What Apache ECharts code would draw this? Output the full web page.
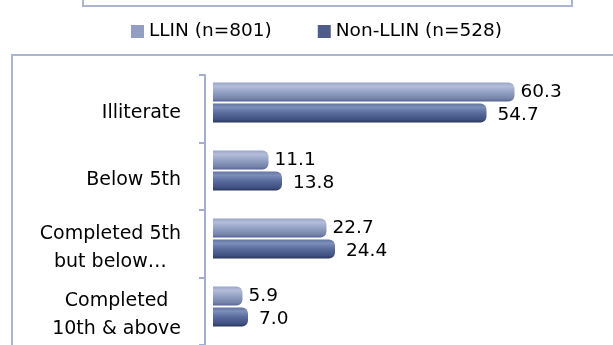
<!DOCTYPE html>
<html>
<head>
<meta charset="utf-8">
<script src="https://cdn.jsdelivr.net/npm/echarts@6/dist/echarts.min.js"></script>
<style>
  html, body { margin: 0; padding: 0; background: #ffffff; }
  #chart { width: 613px; height: 345px; }
</style>
</head>
<body>
<div id="chart"></div>
<script>
// ---- data ----
var categories = ['Illiterate', 'Below 5th', 'Completed 5th\nbut below\u2026', 'Completed\n10th & above'];
var seriesNames = ['LLIN (n=801)', 'Non-LLIN (n=528)'];
var llinValues = [60.3, 11.1, 22.7, 5.9];
var nonLlinValues = [54.7, 13.8, 24.4, 7.0];

var FONT = '"DejaVu Sans", sans-serif';
var TEXT = '#000000';
var chart = echarts.init(document.getElementById('chart'), null, { renderer: 'canvas' });

function grad(stops) {
  return new echarts.graphic.LinearGradient(0, 0, 0, 1, stops.map(function (s) {
    return { offset: s[0], color: s[1] };
  }));
}

var option = {
  animation: false,
  backgroundColor: '#ffffff',
  graphic: [
    { type: 'rect', z: 0, shape: { x: 83, y: -60, width: 489, height: 66 },
      style: { fill: 'none', stroke: '#a9b4d1', lineWidth: 2 } },
    { type: 'rect', z: 0, shape: { x: 12, y: 55, width: 700, height: 400 },
      style: { fill: 'none', stroke: '#a9b4d1', lineWidth: 2 } }
  ],
  legend: {
    left: 126, top: 17,
    itemWidth: 13, itemHeight: 13, itemGap: 46,
    icon: 'rect',
    textStyle: { fontFamily: FONT, fontSize: 18.5, color: TEXT },
    data: [
      { name: seriesNames[0], itemStyle: { color: '#939ec3' } },
      { name: seriesNames[1], itemStyle: { color: '#4e5d8b' } }
    ]
  },
  grid: [
    { left: 205, top: 75, width: 400, height: 272 },
    { left: 213, top: 68.5, width: 400, height: 272 }
  ],
  xAxis: [
    { type: 'value', gridIndex: 0, min: 0, max: 80, show: false },
    { type: 'value', gridIndex: 1, min: 0, max: 80, show: false }
  ],
  yAxis: [
    {
      type: 'category', gridIndex: 0, data: categories, inverse: true,
      axisLine: { show: true, lineStyle: { color: '#a3aed0', width: 2 } },
      axisTick: { show: true, length: 6, lineStyle: { color: '#a3aed0', width: 2 } },
      splitLine: { show: false },
      axisLabel: {
        margin: 24, align: 'right', padding: [8, 0, 0, 0],
        fontFamily: FONT, fontSize: 19, color: TEXT, lineHeight: 28,
        formatter: function (v) {
          return v.split('\n').map(function (l) { return '{c|' + l + '}'; }).join('\n');
        },
        rich: { c: { align: 'center', fontFamily: FONT, fontSize: 19, color: TEXT, lineHeight: 28 } }
      }
    },
    { type: 'category', gridIndex: 1, data: categories, inverse: true, show: false }
  ],
  series: [
    {
      name: seriesNames[0], type: 'bar', xAxisIndex: 1, yAxisIndex: 1,
      data: llinValues, barWidth: 19, barGap: '10%',
      itemStyle: {
        borderRadius: [0, 6, 6, 0],
        color: grad([[0, '#9aa6c9'], [0.2, '#b3bdd8'], [0.5, '#95a2c6'], [0.85, '#7583ab'], [1, '#58658c']])
      },
      label: {
        show: true, position: 'right', distance: 6,
        fontFamily: FONT, fontSize: 18.5, color: TEXT,
        formatter: function (p) { return p.value.toFixed(1); }
      }
    },
    {
      name: seriesNames[1], type: 'bar', xAxisIndex: 1, yAxisIndex: 1,
      data: nonLlinValues, barWidth: 19, barGap: '10%',
      itemStyle: {
        borderRadius: [0, 6, 6, 0],
        color: grad([[0, '#61739f'], [0.2, '#7d8eba'], [0.5, '#586b9c'], [0.85, '#3f5180'], [1, '#2a375c']])
      },
      label: {
        show: true, position: 'right', distance: 11, offset: [0, 2],
        fontFamily: FONT, fontSize: 18.5, color: TEXT,
        formatter: function (p) { return p.value.toFixed(1); }
      }
    }
  ]
};
chart.setOption(option);
</script>
</body>
</html>
